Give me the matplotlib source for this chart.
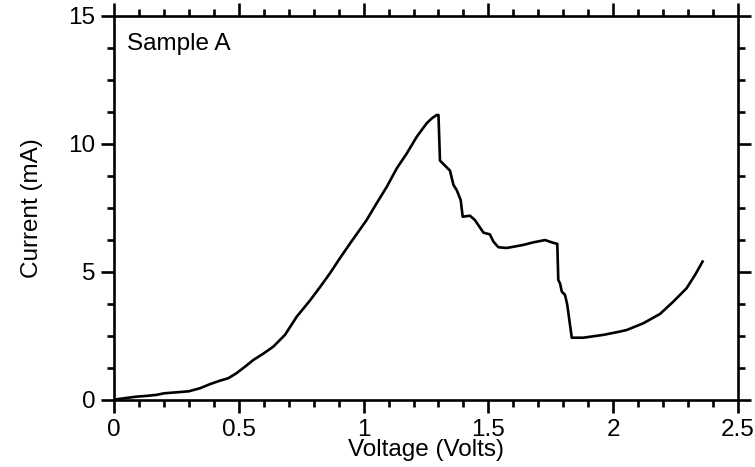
import matplotlib
matplotlib.use("Agg")
import matplotlib.pyplot as plt
from matplotlib.ticker import MultipleLocator

plt.rcParams['font.family'] = ['Liberation Sans', 'DejaVu Sans']

voltage = [0.0, 0.011, 0.05, 0.09, 0.13, 0.17, 0.20, 0.25, 0.30, 0.345, 0.385, 0.42, 0.458, 0.49,
           0.525, 0.558, 0.60, 0.638, 0.685, 0.732, 0.785, 0.825, 0.865, 0.905, 0.946, 1.012,
           1.052, 1.093, 1.133, 1.173, 1.213, 1.253, 1.275, 1.293, 1.300,
           1.306, 1.346, 1.36, 1.373, 1.389, 1.397, 1.426, 1.446, 1.48, 1.506, 1.52, 1.54,
           1.573, 1.64, 1.68, 1.727, 1.754, 1.776,
           1.78, 1.787, 1.794, 1.807, 1.816, 1.834, 1.88, 1.96, 2.027, 2.054, 2.12, 2.188,
           2.241, 2.294, 2.328, 2.358]
current = [0.0, 0.03, 0.08, 0.13, 0.16, 0.2, 0.26, 0.30, 0.34, 0.46, 0.62, 0.74, 0.85, 1.04,
           1.30, 1.56, 1.82, 2.08, 2.54, 3.25, 3.88, 4.40, 4.94, 5.53, 6.11, 7.02,
           7.67, 8.32, 9.04, 9.62, 10.27, 10.8, 11.0, 11.12, 11.12,
           9.34, 8.95, 8.39, 8.19, 7.80, 7.15, 7.19, 7.02, 6.53, 6.46, 6.18, 5.96,
           5.93, 6.05, 6.15, 6.24, 6.15, 6.09,
           4.68, 4.55, 4.23, 4.10, 3.71, 2.43, 2.43, 2.54, 2.67, 2.73, 2.99, 3.36,
           3.84, 4.36, 4.88, 5.40]

x_ticks = [0, 0.5, 1, 1.5, 2, 2.5]
x_tick_labels = ['0', '0.5', '1', '1.5', '2', '2.5']
y_ticks = [0, 5, 10, 15]
y_tick_labels = ['0', '5', '10', '15']

fig = plt.figure(figsize=(7.55, 4.67), dpi=100)
ax = fig.add_axes([114/755, 1-400/467, (738-114)/755, (400-15.5)/467])

ax.plot(voltage, current, color='black', linewidth=1.9, solid_joinstyle='round')

ax.set_xlim(0, 2.5)
ax.set_ylim(0, 15)
ax.set_xticks(x_ticks)
ax.set_xticklabels(x_tick_labels)
ax.set_yticks(y_ticks)
ax.set_yticklabels(y_tick_labels)
ax.xaxis.set_minor_locator(MultipleLocator(0.1))
ax.yaxis.set_minor_locator(MultipleLocator(1.25))

for s in ax.spines.values():
    s.set_linewidth(1.9)

fs = 17.5
ax.tick_params(which='both', direction='out', top=True, right=True,
               labeltop=False, labelright=False, width=1.9, labelsize=fs, color='black')
ax.tick_params(which='major', length=9.5, pad=4)
ax.tick_params(which='minor', length=5)

ax.set_xlabel('Voltage (Volts)', fontsize=fs, labelpad=-1)
ax.set_ylabel('Current (mA)', fontsize=fs, labelpad=18)

ax.text(0.021, 0.925, 'Sample A', transform=ax.transAxes, fontsize=fs,
        ha='left', va='center')

fig.savefig('out.png', dpi=100)
